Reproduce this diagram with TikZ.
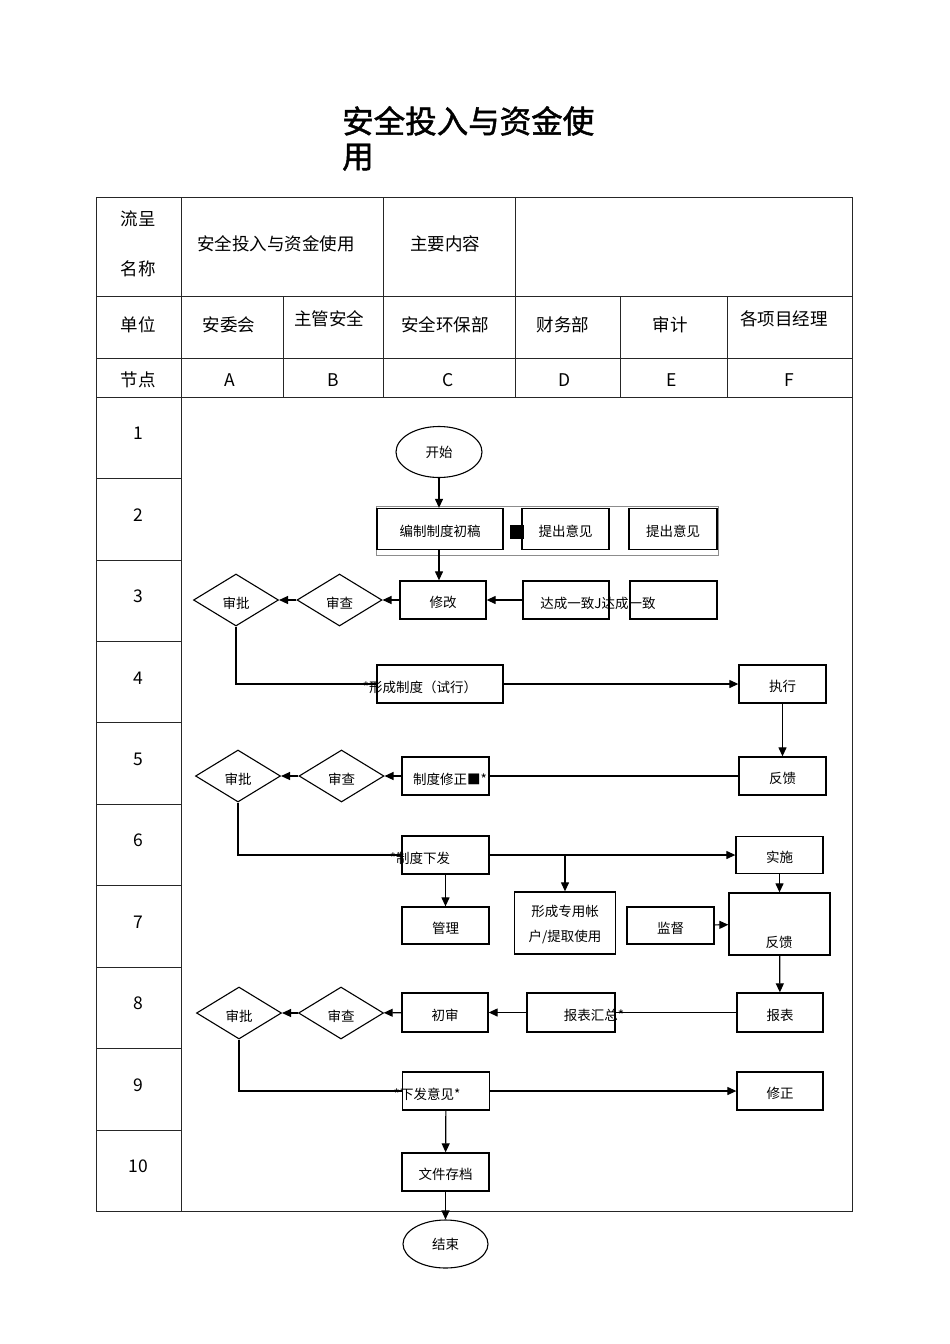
\documentclass[tikz,border=0pt]{standalone}
\usepackage{fontspec}
\setmainfont{Noto Sans CJK SC}
\newfontfamily\titlefont[FakeBold=1.5]{Noto Sans CJK SC}
\usetikzlibrary{shapes.geometric,arrows.meta}

\begin{document}
\begin{tikzpicture}[x=1pt,y=-1pt,
  tbl/.style={line width=0.9pt,black!85},
  head/.style={inner sep=0pt,font=\fontsize{17.5}{20}\selectfont},
  box/.style={draw,line width=1.3pt,inner sep=0pt,text height=15pt,text depth=0pt,font=\fontsize{13.5}{16}\selectfont},
  lbl/.style={inner sep=0pt,font=\fontsize{13.5}{16}\selectfont},
  decision/.style={diamond,draw,line width=1.1pt,inner sep=0pt,text height=16pt,text depth=0pt,minimum width=85pt,minimum height=52pt,font=\fontsize{13.5}{16}\selectfont},
  terminal/.style={ellipse,draw,line width=1.1pt,inner sep=0pt,minimum width=86pt,minimum height=51pt,font=\fontsize{13.5}{16}\selectfont},
  arr/.style={line width=1.2pt,-{Triangle[length=9pt,width=8pt]}},
  lnk/.style={line width=1.2pt}]
\useasboundingbox (0,0) rectangle (950,1344);

% title
\node [anchor=north west,inner sep=0pt,align=left,font=\titlefont\fontsize{31.5}{35}\selectfont] (title) at (342,106) {安全投入与资金使\\用};

% table frame
\draw [tbl] (96,197) rectangle (852,1211);
\draw [tbl] (96,296) -- (852,296);
\draw [tbl] (96,358) -- (852,358);
\draw [tbl] (96,397) -- (852,397);
\draw [tbl] (181,197) -- (181,1211);
\draw [tbl] (383,197) -- (383,397);
\draw [tbl] (515,197) -- (515,397);
\draw [tbl] (283,296) -- (283,397);
\draw [tbl] (620,296) -- (620,397);
\draw [tbl] (727,296) -- (727,397);
\foreach \y in {478,560,641,722,804,885,967,1048,1130}
  \draw [tbl] (96,\y) -- (181,\y);

% header texts
\node [head] at (138,219) {流呈};
\node [head] at (138,269) {名称};
\node [head] at (276,244) {安全投入与资金使用};
\node [head] at (445,244) {主要内容};
\node [head] at (138,325) {单位};
\node [head] at (229,325) {安委会};
\node [head] at (329,319) {主管安全};
\node [head] at (445,325) {安全环保部};
\node [head] at (563,325) {财务部};
\node [head] at (670,325) {审计};
\node [head] at (784,319) {各项目经理};
\node [head] at (138,380) {节点};
\node [head] at (230,380) {A};
\node [head] at (333,380) {B};
\node [head] at (448,380) {C};
\node [head] at (565,380) {D};
\node [head] at (672,380) {E};
\node [head] at (789,380) {F};
\foreach \i in {1,...,10}
  \node [head] at (138,{397+81.4*(\i-0.5)-4}) {\i};

% row 1-3
\node [terminal] (start) at (439,452) {开始};
\draw [black!45,line width=0.8pt] (376,506) rectangle (718,555);
\node [box,minimum width=126pt,minimum height=41pt] (bz) at (440,529) {编制制度初稿};
\fill (510,525) rectangle (524,539);
\node [box,minimum width=87pt,minimum height=41pt] (ty1) at (565.5,529) {提出意见};
\node [box,minimum width=88pt,minimum height=41pt] (ty2) at (673,529) {提出意见};
\node [box,minimum width=86pt,minimum height=38pt] (xg) at (443,600) {修改};
\node [box,minimum width=86pt,minimum height=38pt] (dc1) at (566,600) {};
\node [box,minimum width=87pt,minimum height=38pt] (dc2) at (673.5,600) {};
\node [lbl] at (598,603) {达成一致J达成一致};
\node [decision] (sc1) at (339.5,600) {审查};
\node [decision] (sp1) at (236,600) {审批};

\draw [arr] (start) -- (start |- bz.north);
\draw [arr] (bz.south -| start) -- (start |- xg.north);
\draw [arr] (dc1) -- (xg);
\draw [arr] (xg) -- (sc1);
\draw [arr] (sc1) -- (sp1);

% row 4-5
\node [box,minimum width=126pt,minimum height=38pt] (xs) at (440,684) {};
\node [lbl] at (420,687) {*形成制度（试行）};
\node [box,minimum width=87pt,minimum height=38pt] (zx) at (782.5,684) {执行};
\node [box,minimum width=87pt,minimum height=38pt] (fk1) at (782.5,776) {反馈};
\node [box,minimum width=87pt,minimum height=38pt] (xz) at (445.5,776) {};
\node [lbl] at (450,779) {制度修正■*};
\node [decision] (sc2) at (341.5,776) {审查};
\node [decision] (sp2) at (238,776) {审批};

\draw [lnk] (sp1.south) |- (xs.west);
\draw [arr] (xs) -- (zx);
\draw [arr] (zx) -- (fk1);
\draw [lnk] (fk1) -- (xz);
\draw [arr] (xz) -- (sc2);
\draw [arr] (sc2) -- (sp2);

% row 6-7
\node [box,minimum width=87pt,minimum height=38pt] (xf) at (445.5,855) {};
\node [lbl] at (420,858) {*制度下发};
\node [box,minimum width=87pt,minimum height=37pt] (ss) at (779.5,855) {实施};
\node [box,minimum width=101pt,minimum height=62pt] (zh) at (565,923) {};
\node [lbl,align=center,font=\fontsize{13.5}{25}\selectfont] at (565,925) {形成专用帐\\户/提取使用};
\node [box,minimum width=87pt,minimum height=37pt] (gl) at (445.5,925.5) {管理};
\node [box,minimum width=87pt,minimum height=37pt] (jd) at (670.5,925.5) {监督};
\node [box,minimum width=101pt,minimum height=62pt] (fk2) at (779.5,924) {};
\node [lbl] at (779,942) {反馈};

\draw [lnk] (sp2.south) |- (xf.west);
\draw [arr] (xf) -- (ss);
\draw [arr] (zh.north |- xf.east) -- (zh.north);
\draw [arr] (xf) -- (gl);
\draw [arr] (ss) -- (fk2);
\draw [arr] (jd) -- (fk2);

% row 8-10
\node [box,minimum width=86pt,minimum height=39pt] (bb) at (780,1012.5) {报表};
\node [box,minimum width=88pt,minimum height=39pt] (hz) at (571,1012.5) {};
\node [lbl] at (594,1015) {报表汇总*};
\node [box,minimum width=86pt,minimum height=39pt] (cs) at (445,1012.5) {初审};
\node [decision] (sc3) at (341,1013) {审查};
\node [decision] (sp3) at (239,1013) {审批};
\node [box,minimum width=87pt,minimum height=38pt] (xfyj) at (446,1091) {};
\node [lbl] at (427,1094) {*下发意见*};
\node [box,minimum width=86pt,minimum height=38pt] (xzh) at (780,1091) {修正};
\node [box,minimum width=87pt,minimum height=38pt] (wj) at (445.5,1172) {文件存档};
\node [terminal,minimum width=85pt,minimum height=48pt] (end) at (445.5,1244) {结束};

\draw [arr] (fk2) -- (bb);
\draw [lnk] (bb) -- (hz);
\draw [arr] (hz) -- (cs);
\draw [arr] (cs) -- (sc3);
\draw [arr] (sc3) -- (sp3);
\draw [lnk] (sp3.south) |- (xfyj.west);
\draw [arr] (xfyj) -- (xzh);
\draw [arr] (xfyj) -- (wj);
\draw [arr] (wj) -- (end);

\end{tikzpicture}
\end{document}
